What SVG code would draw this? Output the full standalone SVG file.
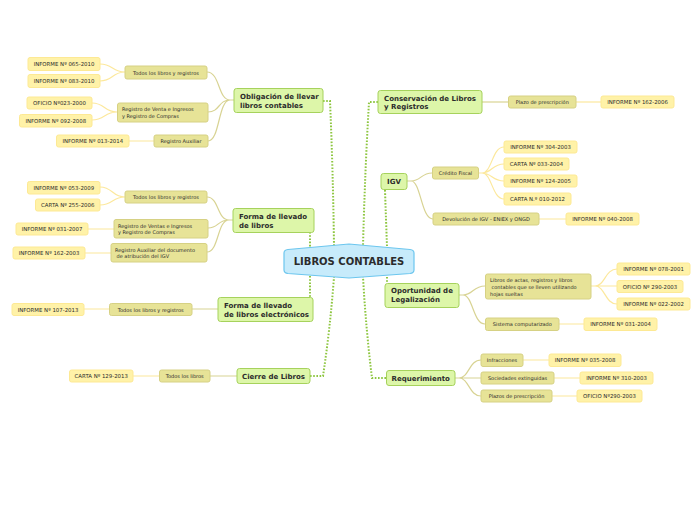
<svg xmlns="http://www.w3.org/2000/svg" width="696" height="520" viewBox="0 0 696 520">
<style>
text{font-family:"DejaVu Sans","Liberation Sans",sans-serif;fill:#2b2b2b;dominant-baseline:central}
.c rect{fill:#ddf6a9;stroke:#a6d25c;stroke-width:1}
.c text{font-size:7px;font-weight:bold}
.s rect{fill:#e7e397;stroke:#d6d184;stroke-width:1}
.s text{font-size:5px}
.l rect{fill:#fff2a8;stroke:#fde994;stroke-width:1}
.l text{font-size:5.4px}
.mid{text-anchor:middle}
.dot{fill:none;stroke:#8ec641;stroke-width:2;stroke-dasharray:1.6 1.6}
.k{fill:none;stroke:#d8d393;stroke-width:1.2}
.y{fill:none;stroke:#fce89c;stroke-width:1.2}
</style>
<rect width="696" height="520" fill="#fff"/>
<g id="connectors">
<path class="dot" d="M323,101 L330,101 Q333,170 334,246"/>
<path class="dot" d="M310,232 L310,249"/>
<path class="dot" d="M310,276 L310,297"/>
<path class="dot" d="M310,376 L323,376 Q330,330 334,277"/>
<path class="dot" d="M378,102 L369,102 Q365,170 363,246"/>
<path class="dot" d="M385,190 Q386,220 387,246"/>
<path class="dot" d="M387,277 L387,283"/>
<path class="dot" d="M386,378 L372,378 Q366,330 363,277"/>
<path class="k" d="M234,100 L230,100 M207,72 C220,72 218,100 230,100 M208,112 C220,112 218,100 230,100 M208,141 C220,141 218,100 230,100"/>
<path class="y" d="M100,64 C113,64 112,72 125,72 M100,81 C113,81 112,72 125,72 M92,103 C105,103 104,112 117,112 M92,120 C105,120 104,112 117,112 M129,141 L154,141"/>
<path class="k" d="M233,220 L229,220 M207,197 C219,197 217,220 229,220 M208,228 C219,228 217,220 229,220 M207,252 C219,252 217,220 229,220"/>
<path class="y" d="M100,187 C113,187 112,197 125,197 M100,205 C113,205 112,197 125,197 M88,229 L114,229 M85,253 L111,253"/>
<path class="k" d="M192,309 L218,309 M210,376 L237,376"/>
<path class="y" d="M84,309 L109,309 M133,376 L159,376"/>
<path class="k" d="M482,102 L508,102"/>
<path class="y" d="M576,102 L601,102"/>
<path class="k" d="M407,181 L411,181 C421,181 421,173 432,173 M411,181 C421,181 421,219 433,219"/>
<path class="y" d="M478,173 L482,173 C492,173 492,147 504,147 M482,173 C492,173 492,164 504,164 M482,173 C492,173 492,181 504,181 M482,173 C492,173 492,199 504,199 M539,219 L566,219"/>
<path class="k" d="M459,295 L463,295 C473,295 473,286 485,286 M463,295 C473,295 473,324 485,324"/>
<path class="y" d="M591,286 L595,286 C605,286 605,269 617,269 M595,286 L617,286 M595,286 C605,286 605,304 617,304 M559,324 L584,324"/>
<path class="k" d="M455,378 L459,378 C469,378 469,360 481,360 M459,378 L481,378 M459,378 C469,378 469,396 481,396"/>
<path class="y" d="M523,360 L549,360 M554,378 L580,378 M552,396 L577,396"/>
</g>
<g id="center">
<path d="M284,253 Q284,250 288,249.5 L349,244 L410,249.5 Q414,250 414,253 L414,270 Q414,273 410,273.5 L349,278 L288,273.5 Q284,273 284,270 Z" fill="#c7ebfb" stroke="#6cc6ee" stroke-width="1.2"/>
<text x="349" y="261" class="mid" font-size="10" font-weight="bold" fill="#111">LIBROS CONTABLES</text>
</g>
<g id="n-obligacion" class="c"><rect x="234" y="88.5" width="89" height="24" rx="2.5"/><text x="240" y="97">Obligación de llevar</text><text x="240" y="106"> libros contables</text></g>
<g id="n-forma" class="c"><rect x="233" y="208.5" width="81" height="24" rx="2.5"/><text x="239" y="217">Forma de llevado</text><text x="239" y="226">de libros</text></g>
<g id="n-electronicos" class="c"><rect x="218" y="297.5" width="95" height="24" rx="2.5"/><text x="224" y="306">Forma de llevado</text><text x="224" y="314.5">de libros electrónicos</text></g>
<g id="n-cierre" class="c"><rect x="237" y="368.5" width="73" height="15" rx="2.5"/><text x="273.5" y="376.5" class="mid">Cierre de Libros</text></g>
<g id="n-conservacion" class="c"><rect x="378" y="90.5" width="104" height="23" rx="2.5"/><text x="384" y="98.5">Conservación de Libros</text><text x="384" y="107">y Registros</text></g>
<g id="n-igv" class="c"><rect x="381" y="173.5" width="26" height="16" rx="2.5"/><text x="394" y="181.5" class="mid">IGV</text></g>
<g id="n-oportunidad" class="c"><rect x="385" y="283.5" width="74" height="24" rx="2.5"/><text x="391" y="291">Oportunidad de</text><text x="391" y="299.5">Legalización</text></g>
<g id="n-requerimiento" class="c"><rect x="386.5" y="370.5" width="68.5" height="15" rx="2.5"/><text x="420.75" y="378.5" class="mid">Requerimiento</text></g>
<g id="s-ob-todos" class="s"><rect x="125" y="66" width="82" height="13" rx="2"/><text x="166" y="72.5" class="mid">Todos los libros y registros</text></g>
<g id="s-ob-registro" class="s"><rect x="117.5" y="103" width="90.5" height="19" rx="2"/><text x="122" y="109">Registro de Venta e Ingresos</text><text x="122" y="115.5">y Registro de Compras</text></g>
<g id="s-ob-aux" class="s"><rect x="154" y="135" width="54" height="12" rx="2"/><text x="181" y="141" class="mid">Registro Auxiliar</text></g>
<g id="l-065" class="l"><rect x="28" y="57.5" width="72" height="13" rx="2"/><text x="64" y="64" class="mid">INFORME Nº 065-2010</text></g>
<g id="l-083" class="l"><rect x="28" y="74.5" width="72" height="13" rx="2"/><text x="64" y="81" class="mid">INFORME Nº 083-2010</text></g>
<g id="l-023" class="l"><rect x="27" y="97" width="65" height="12" rx="2"/><text x="59.5" y="103" class="mid">OFICIO Nº023-2000</text></g>
<g id="l-092" class="l"><rect x="19.5" y="114.5" width="72.5" height="12.5" rx="2"/><text x="55.75" y="120.75" class="mid">INFORME Nº 092-2008</text></g>
<g id="l-013" class="l"><rect x="56.5" y="135" width="72.5" height="12" rx="2"/><text x="92.75" y="141" class="mid">INFORME Nº 013-2014</text></g>
<g id="s-fl-todos" class="s"><rect x="125" y="191" width="82" height="12" rx="2"/><text x="166" y="197" class="mid">Todos los libros y registros</text></g>
<g id="s-fl-registro" class="s"><rect x="114" y="219.5" width="94" height="18.5" rx="2"/><text x="118" y="225.5">Registro de Ventas e Ingresos</text><text x="118" y="231.8">y Registro de Compras</text></g>
<g id="s-fl-aux" class="s"><rect x="111" y="243.5" width="96" height="18.5" rx="2"/><text x="115" y="249.5">Registro Auxiliar del documento</text><text x="116.5" y="255.8">de atribución del IGV</text></g>
<g id="l-053" class="l"><rect x="27.5" y="181.5" width="72.5" height="12.5" rx="2"/><text x="63.75" y="187.75" class="mid">INFORME Nº 053-2009</text></g>
<g id="l-255" class="l"><rect x="35.5" y="199" width="64.5" height="12" rx="2"/><text x="67.75" y="205" class="mid">CARTA Nº 255-2006</text></g>
<g id="l-031" class="l"><rect x="16" y="223" width="72" height="12" rx="2"/><text x="52" y="229" class="mid">INFORME Nº 031-2007</text></g>
<g id="l-162a" class="l"><rect x="13" y="247" width="72" height="12" rx="2"/><text x="49" y="253" class="mid">INFORME Nº 162-2003</text></g>
<g id="s-el-todos" class="s"><rect x="109.5" y="303.5" width="82.5" height="12" rx="2"/><text x="150.75" y="309.5" class="mid">Todos los libros y registros</text></g>
<g id="l-107" class="l"><rect x="12" y="303.5" width="72" height="12" rx="2"/><text x="48" y="309.5" class="mid">INFORME Nº 107-2013</text></g>
<g id="s-ci-todos" class="s"><rect x="159.5" y="370" width="50.5" height="12" rx="2"/><text x="184.75" y="376" class="mid">Todos los libros</text></g>
<g id="l-129" class="l"><rect x="69.5" y="370" width="63.5" height="12" rx="2"/><text x="101.25" y="376" class="mid">CARTA Nº 129-2013</text></g>
<g id="s-co-plazo" class="s"><rect x="508.5" y="96" width="67.5" height="12" rx="2"/><text x="542.25" y="102" class="mid">Plazo de prescripción</text></g>
<g id="l-162b" class="l"><rect x="601" y="96" width="73" height="12" rx="2"/><text x="637.5" y="102" class="mid">INFORME Nº 162-2006</text></g>
<g id="s-igv-credito" class="s"><rect x="432.5" y="167" width="46" height="12" rx="2"/><text x="455.5" y="173" class="mid">Crédito Fiscal</text></g>
<g id="s-igv-devolucion" class="s"><rect x="433" y="213" width="106" height="12" rx="2"/><text x="486" y="219" class="mid">Devolución de IGV - ENIEX y ONGD</text></g>
<g id="l-304" class="l"><rect x="504" y="141" width="73" height="12" rx="2"/><text x="540.5" y="147" class="mid">INFORME Nº 304-2003</text></g>
<g id="l-033" class="l"><rect x="504" y="158" width="65" height="12" rx="2"/><text x="536.5" y="164" class="mid">CARTA Nº 033-2004</text></g>
<g id="l-124" class="l"><rect x="504" y="175" width="73" height="12" rx="2"/><text x="540.5" y="181" class="mid">INFORME Nº 124-2005</text></g>
<g id="l-010" class="l"><rect x="504" y="193" width="67" height="12" rx="2"/><text x="537.5" y="199" class="mid">CARTA N.º 010-2012</text></g>
<g id="l-040" class="l"><rect x="566" y="213" width="73" height="12" rx="2"/><text x="602.5" y="219" class="mid">INFORME Nº 040-2008</text></g>
<g id="s-op-libros" class="s"><rect x="485.5" y="274" width="105.5" height="25" rx="2"/><text x="490" y="280">Libros de actas, registros y libros</text><text x="491.5" y="286.8">contables que se lleven utilizando</text><text x="490" y="293.5">hojas sueltas</text></g>
<g id="s-op-sistema" class="s"><rect x="485.5" y="318" width="73.5" height="12.5" rx="2"/><text x="522.25" y="324.25" class="mid">Sistema computarizado</text></g>
<g id="l-078" class="l"><rect x="617" y="263" width="73" height="12" rx="2"/><text x="653.5" y="269" class="mid">INFORME Nº 078-2001</text></g>
<g id="l-290a" class="l"><rect x="617" y="280.5" width="66" height="12" rx="2"/><text x="650" y="286.5" class="mid">OFICIO Nº 290-2003</text></g>
<g id="l-022" class="l"><rect x="617" y="298" width="73" height="12" rx="2"/><text x="653.5" y="304" class="mid">INFORME Nº 022-2002</text></g>
<g id="l-031b" class="l"><rect x="584" y="318" width="73" height="12.5" rx="2"/><text x="620.5" y="324.25" class="mid">INFORME Nº 031-2004</text></g>
<g id="s-rq-infracciones" class="s"><rect x="481" y="354" width="42" height="12.5" rx="2"/><text x="502" y="360.25" class="mid">Infracciones</text></g>
<g id="s-rq-sociedades" class="s"><rect x="481" y="372" width="73" height="12" rx="2"/><text x="517.5" y="378" class="mid">Sociedades extinguidas</text></g>
<g id="s-rq-plazos" class="s"><rect x="481" y="390" width="71" height="12" rx="2"/><text x="516.5" y="396" class="mid">Plazos de prescripción</text></g>
<g id="l-035" class="l"><rect x="549" y="354" width="72" height="12.5" rx="2"/><text x="585" y="360.25" class="mid">INFORME Nº 035-2008</text></g>
<g id="l-310" class="l"><rect x="580" y="372" width="73" height="12" rx="2"/><text x="616.5" y="378" class="mid">INFORME Nº 310-2003</text></g>
<g id="l-290b" class="l"><rect x="577" y="390" width="65" height="12" rx="2"/><text x="609.5" y="396" class="mid">OFICIO Nº290-2003</text></g>
</svg>
